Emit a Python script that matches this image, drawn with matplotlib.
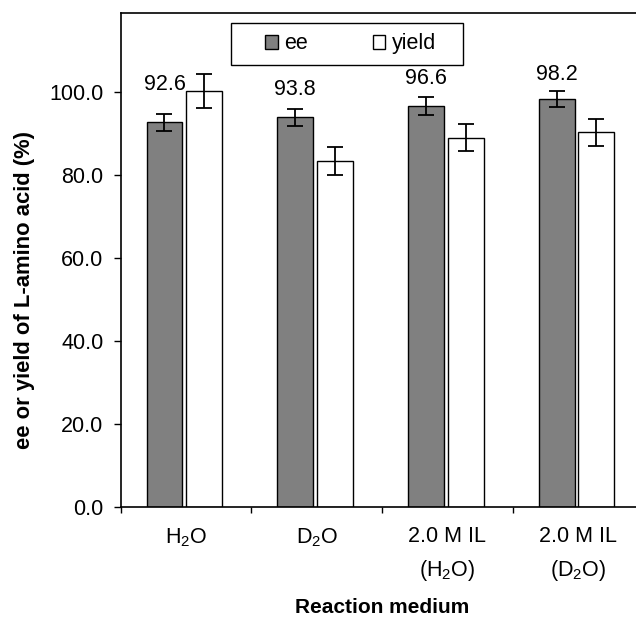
import numpy as np
import matplotlib
matplotlib.use("Agg")
import matplotlib.pyplot as plt
from matplotlib.patches import Rectangle

plt.rcParams["font.family"] = ["Liberation Sans", "DejaVu Sans"]
plt.rcParams["mathtext.default"] = "regular"

media = ["H$_2$O", "D$_2$O", "2.0 M IL\n(H$_2$O)", "2.0 M IL\n(D$_2$O)"]
ee = [92.6, 93.8, 96.6, 98.2]
ee_err = [2.0, 2.0, 2.2, 2.0]
yld = [100.2, 83.3, 88.9, 90.2]
yld_err = [4.1, 3.3, 3.2, 3.3]
ee_text = ["92.6", "93.8", "96.6", "98.2"]

# how far above the ee error bar each number sits
label_nudge = [7.2, 4.7, 4.3, 3.9]

x = np.arange(len(media))
w = 0.275

fig = plt.figure(figsize=(6.36, 6.17), dpi=100)
ax = fig.add_axes([0.1898, 0.1788, 0.822, 0.8007])

err_kw = dict(ecolor="black", elinewidth=1.3, capsize=5.5, capthick=1.3)
ax.bar(x - 0.165, ee, w, yerr=ee_err, color="#808080", edgecolor="black",
       linewidth=1.0, error_kw=err_kw, label="ee")
ax.bar(x + 0.14, yld, w, yerr=yld_err, color="white", edgecolor="black",
       linewidth=1.0, error_kw=err_kw, label="yield")

for i in range(len(x)):
    ax.text(x[i] - 0.165, ee[i] + ee_err[i] + label_nudge[i], ee_text[i],
            ha="center", va="center", fontsize=15.5)

ax.set_xlim(-0.5, 3.5)
ax.set_ylim(0, 119)
ax.set_yticks(np.arange(0, 101, 20))
ax.set_yticklabels(["%.1f" % v for v in np.arange(0, 101, 20)], fontsize=15.5)
ax.tick_params(axis="y", direction="out", length=5, width=1.0, pad=7.5)

ax.set_xticks([-0.5, 0.5, 1.5, 2.5])
ax.set_xticklabels([])
ax.tick_params(axis="x", which="major", direction="out", length=4, width=1.0)
ax.set_xticks(x, minor=True)
ax.set_xticklabels(media, minor=True, fontsize=15.5)
ax.tick_params(axis="x", which="minor", length=0, pad=14)
for t in ax.get_xticklabels(minor=True):
    t.set_linespacing(1.6)

ax.spines["right"].set_visible(False)
for s in ["left", "bottom", "top"]:
    ax.spines[s].set_linewidth(1.2)

ax.set_xlabel("Reaction medium", fontsize=15, fontweight="bold", labelpad=11)
ax.set_ylabel("ee or yield of L-amino acid (%)", fontsize=15.8,
              fontweight="bold", labelpad=10, y=0.439)

ax.add_patch(Rectangle((0.211, 0.894), 0.444, 0.085, transform=ax.transAxes,
                       fill=False, edgecolor="black", linewidth=1.0))
ax.legend(loc="center", bbox_to_anchor=(0.4396, 0.937), ncol=2, frameon=False,
          fontsize=15.5, handlelength=0.6, handleheight=0.6, handletextpad=0.3,
          columnspacing=3.0)

fig.savefig("out.png", dpi=100)
